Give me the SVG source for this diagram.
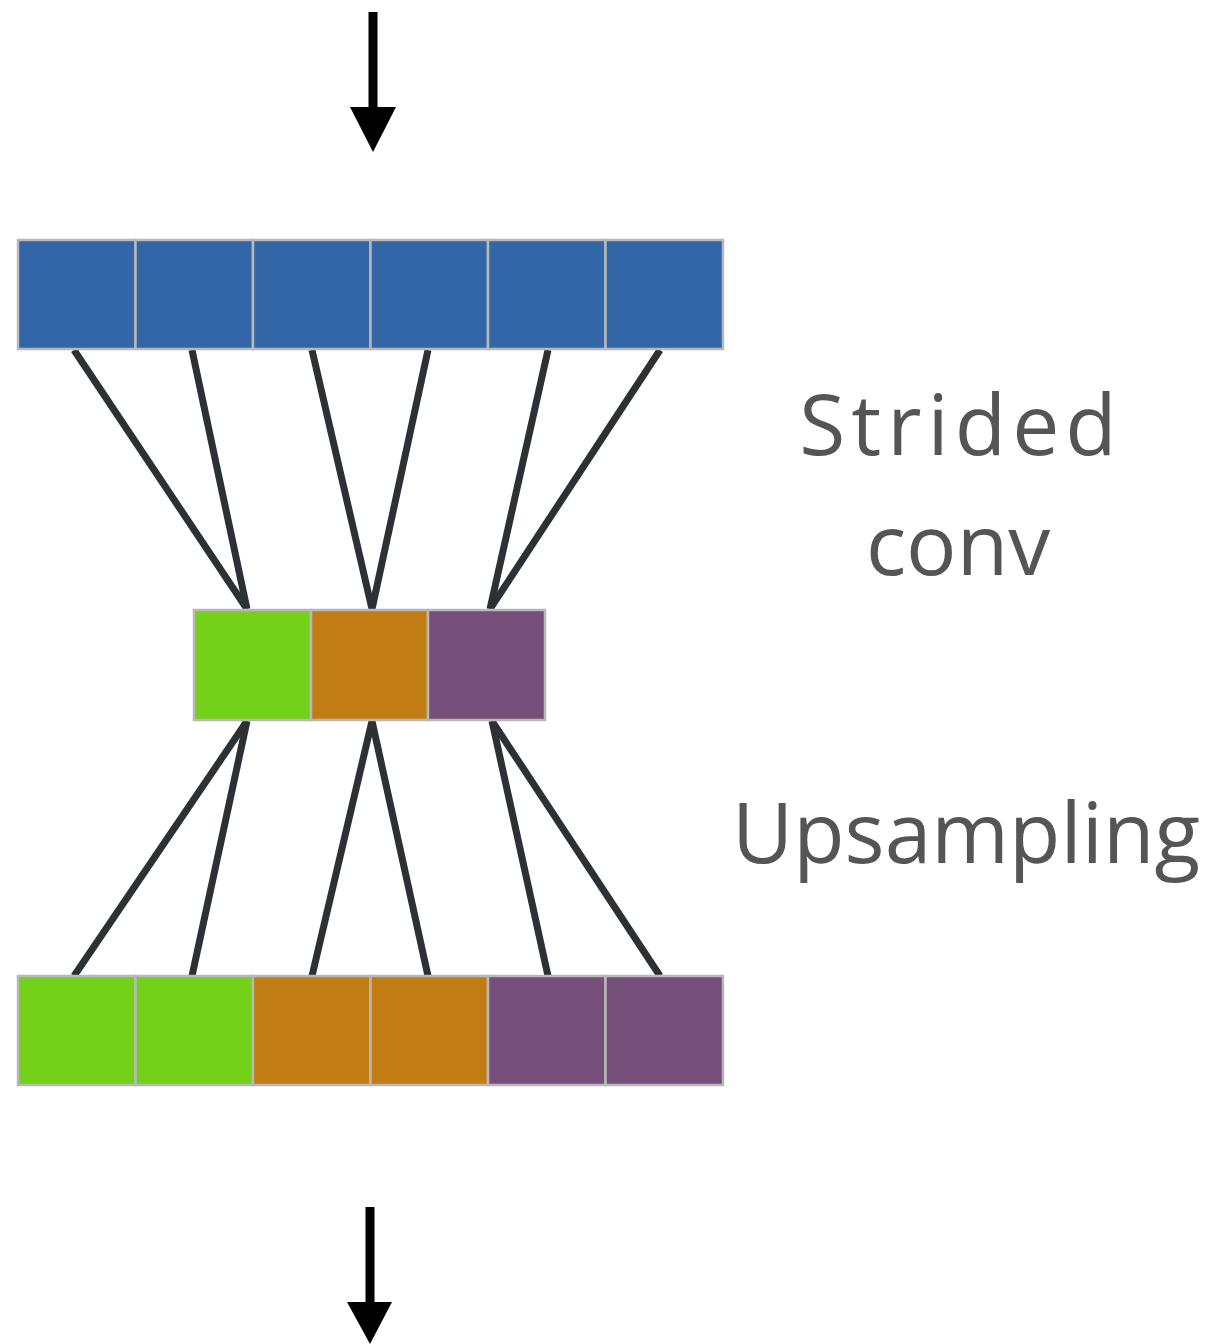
<svg xmlns="http://www.w3.org/2000/svg" width="1212" height="1344" viewBox="0 0 1212 1344">
<style>
.cell{stroke:#b8b8b8;stroke-width:2.5}
.b{fill:#3366a6}.g{fill:#74d11a}.o{fill:#c17d14}.p{fill:#76507a}
.conn line{stroke:#2b3134;stroke-width:7}
.arr line{stroke:#000;stroke-width:9}
.lbl{font-family:"Comic Sans MS","Open Sans","DejaVu Sans",sans-serif;font-size:84px;fill:#555;text-anchor:middle}
</style>
<rect width="1212" height="1344" fill="#fff"/>
<g class="conn" id="connectors">
<line x1="74" y1="350" x2="247" y2="609"/>
<line x1="192" y1="350" x2="247" y2="609"/>
<line x1="312" y1="350" x2="372" y2="609"/>
<line x1="428" y1="350" x2="372" y2="609"/>
<line x1="548" y1="350" x2="490" y2="609"/>
<line x1="660" y1="350" x2="490" y2="609"/>
<line x1="247" y1="721" x2="74" y2="976"/>
<line x1="247" y1="721" x2="192" y2="976"/>
<line x1="372" y1="721" x2="312" y2="976"/>
<line x1="372" y1="721" x2="428" y2="976"/>
<line x1="492" y1="721" x2="548" y2="976"/>
<line x1="492" y1="721" x2="660" y2="976"/>
</g>
<g id="input-arrow" class="arr">
<line x1="373" y1="12" x2="373" y2="110"/>
<polygon points="350,107 396,107 373,152" fill="#000"/>
</g>
<g id="output-arrow" class="arr">
<line x1="370" y1="1207" x2="370" y2="1305"/>
<polygon points="347,1302 392,1302 370,1344" fill="#000"/>
</g>
<g id="input-row">
<rect class="cell b" x="18" y="240" width="117.5" height="109"/>
<rect class="cell b" x="135.5" y="240" width="117.5" height="109"/>
<rect class="cell b" x="253" y="240" width="117.5" height="109"/>
<rect class="cell b" x="370.5" y="240" width="117.5" height="109"/>
<rect class="cell b" x="488" y="240" width="117.5" height="109"/>
<rect class="cell b" x="605.5" y="240" width="117.5" height="109"/>
</g>
<g id="middle-row">
<rect class="cell g" x="194" y="610" width="117" height="110"/>
<rect class="cell o" x="311" y="610" width="117" height="110"/>
<rect class="cell p" x="428" y="610" width="117" height="110"/>
</g>
<g id="output-row">
<rect class="cell g" x="18" y="976" width="117.5" height="109"/>
<rect class="cell g" x="135.5" y="976" width="117.5" height="109"/>
<rect class="cell o" x="253" y="976" width="117.5" height="109"/>
<rect class="cell o" x="370.5" y="976" width="117.5" height="109"/>
<rect class="cell p" x="488" y="976" width="117.5" height="109"/>
<rect class="cell p" x="605.5" y="976" width="117.5" height="109"/>
</g>
<g id="label-strided">
<text class="lbl" x="961" y="455" letter-spacing="6">Strided</text>
<text class="lbl" x="958" y="575">conv</text>
</g>
<g id="label-upsampling">
<text class="lbl" x="966" y="863">Upsampling</text>
</g>
</svg>
